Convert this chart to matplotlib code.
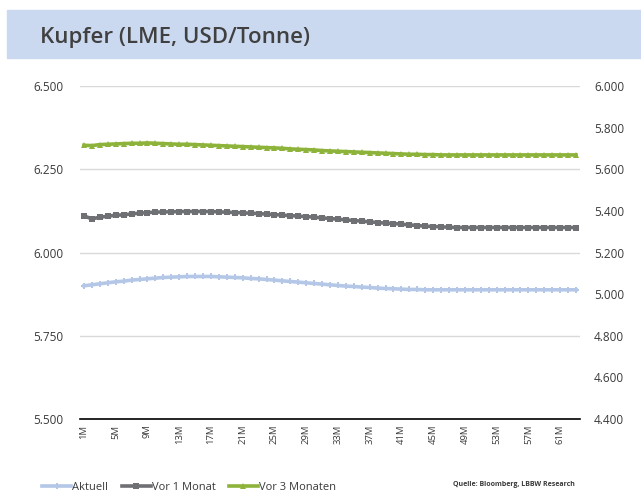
import matplotlib
matplotlib.use("Agg")
import matplotlib.pyplot as plt
from matplotlib.patches import Rectangle
from matplotlib.ticker import FuncFormatter, MultipleLocator

# ── data (USD/Tonne) ─────────────────────────────────────────────────────────
months = [f"{i}M" for i in range(1, 64)]

aktuell = [
    5900, 5903, 5906, 5909, 5912, 5914, 5917, 5919, 5921, 5923,
    5925, 5926, 5927, 5928, 5928, 5928, 5928, 5927, 5926, 5925,
    5924, 5922, 5921, 5919, 5917, 5915, 5913, 5911, 5909, 5907,
    5905, 5903, 5901, 5899, 5898, 5896, 5895, 5893, 5892, 5891,
    5890, 5889, 5889, 5888, 5888, 5888, 5888, 5888, 5888, 5888,
    5888, 5888, 5888, 5888, 5888, 5888, 5888, 5888, 5888, 5888,
    5888, 5888, 5888,
]
vor_1_monat = [
    6110, 6101, 6106, 6109, 6112, 6113, 6116, 6118, 6120, 6121,
    6122, 6122, 6123, 6123, 6123, 6123, 6123, 6122, 6121, 6120,
    6119, 6118, 6117, 6115, 6114, 6112, 6111, 6109, 6108, 6106,
    6104, 6102, 6100, 6098, 6096, 6094, 6092, 6090, 6088, 6087,
    6085, 6083, 6081, 6079, 6078, 6077, 6076, 6075, 6075, 6075,
    6075, 6075, 6075, 6075, 6075, 6075, 6075, 6075, 6075, 6075,
    6075, 6075, 6075,
]
vor_3_monaten = [
    6322, 6321, 6324, 6325, 6326, 6327, 6328, 6328, 6329, 6328,
    6327, 6326, 6325, 6325, 6324, 6323, 6322, 6321, 6320, 6319,
    6318, 6317, 6316, 6315, 6314, 6313, 6311, 6310, 6309, 6308,
    6306, 6305, 6304, 6303, 6302, 6301, 6300, 6299, 6298, 6297,
    6296, 6295, 6295, 6294, 6294, 6293, 6293, 6293, 6293, 6293,
    6293, 6293, 6293, 6293, 6293, 6293, 6293, 6293, 6293, 6293,
    6293, 6293, 6293,
]

series = [
    ("Aktuell", aktuell, "#b4c7e7", "P"),
    ("Vor 1 Monat", vor_1_monat, "#6f7073", "s"),
    ("Vor 3 Monaten", vor_3_monaten, "#8db33a", "^"),
]

TEXT = "#3a3a3a"
plt.rcParams["font.family"] = ["Open Sans", "DejaVu Sans"]


def de_fmt(v, _pos=None):
    return f"{v:,.0f}".replace(",", ".")


fig = plt.figure(figsize=(6.41, 4.95), dpi=100)

# ── title band ───────────────────────────────────────────────────────────────
fig.patches.append(Rectangle((7 / 641, 1 - 58 / 495), 1, 48 / 495,
                             transform=fig.transFigure, color="#cad9f0",
                             zorder=0))
fig.text(40 / 641, 1 - 37 / 495, "Kupfer (LME, USD/Tonne)", fontsize=16,
         fontweight="semibold", color="#404040", va="center", ha="left")

# ── main axes ────────────────────────────────────────────────────────────────
ax = fig.add_axes([80 / 641, 1 - 419 / 495, 500 / 641, 333 / 495])
x = list(range(len(months)))
handles = []
for name, vals, col, mk in series:
    h, = ax.plot(x, vals, color=col, linewidth=2.6, marker=mk,
                 markersize=5, markeredgewidth=0, label=name, zorder=3)
    handles.append(h)

ax.set_xlim(-0.5, len(months) - 0.5)
ax.set_ylim(5500, 6500)
ax.yaxis.set_major_locator(MultipleLocator(250))
ax.yaxis.set_major_formatter(FuncFormatter(de_fmt))
ax.grid(axis="y", color="#d9d9d9", linewidth=1.0, zorder=0)
ax.set_xticks(x[::4])
ax.set_xticklabels(months[::4], rotation=90, fontsize=6.8, color=TEXT)
ax.tick_params(axis="y", length=0, pad=12, labelsize=8.5, labelcolor=TEXT)
ax.tick_params(axis="x", length=0, pad=4)
for side in ("top", "right", "left"):
    ax.spines[side].set_visible(False)
ax.spines["bottom"].set_color("#000000")
ax.spines["bottom"].set_linewidth(1.2)

# right axis
ax2 = ax.twinx()
ax2.set_ylim(4400, 6000)
ax2.yaxis.set_major_locator(MultipleLocator(200))
ax2.yaxis.set_major_formatter(FuncFormatter(de_fmt))
ax2.tick_params(axis="y", length=0, pad=10, labelsize=8.5, labelcolor=TEXT)
for side in ("top", "right", "left", "bottom"):
    ax2.spines[side].set_visible(False)

# ── legend + source ──────────────────────────────────────────────────────────
fig.legend(handles=handles, loc="center left",
           bbox_to_anchor=(38 / 641, 1 - 487 / 495), ncol=3, frameon=False,
           fontsize=8, handlelength=2.6, handletextpad=0.1,
           columnspacing=1.2, labelcolor=TEXT, borderaxespad=0)
fig.text(575 / 641, 1 - 484 / 495, "Quelle: Bloomberg, LBBW Research",
         fontsize=5, fontweight="bold", color=TEXT, ha="right", va="center")

fig.savefig("out.png", dpi=100)
